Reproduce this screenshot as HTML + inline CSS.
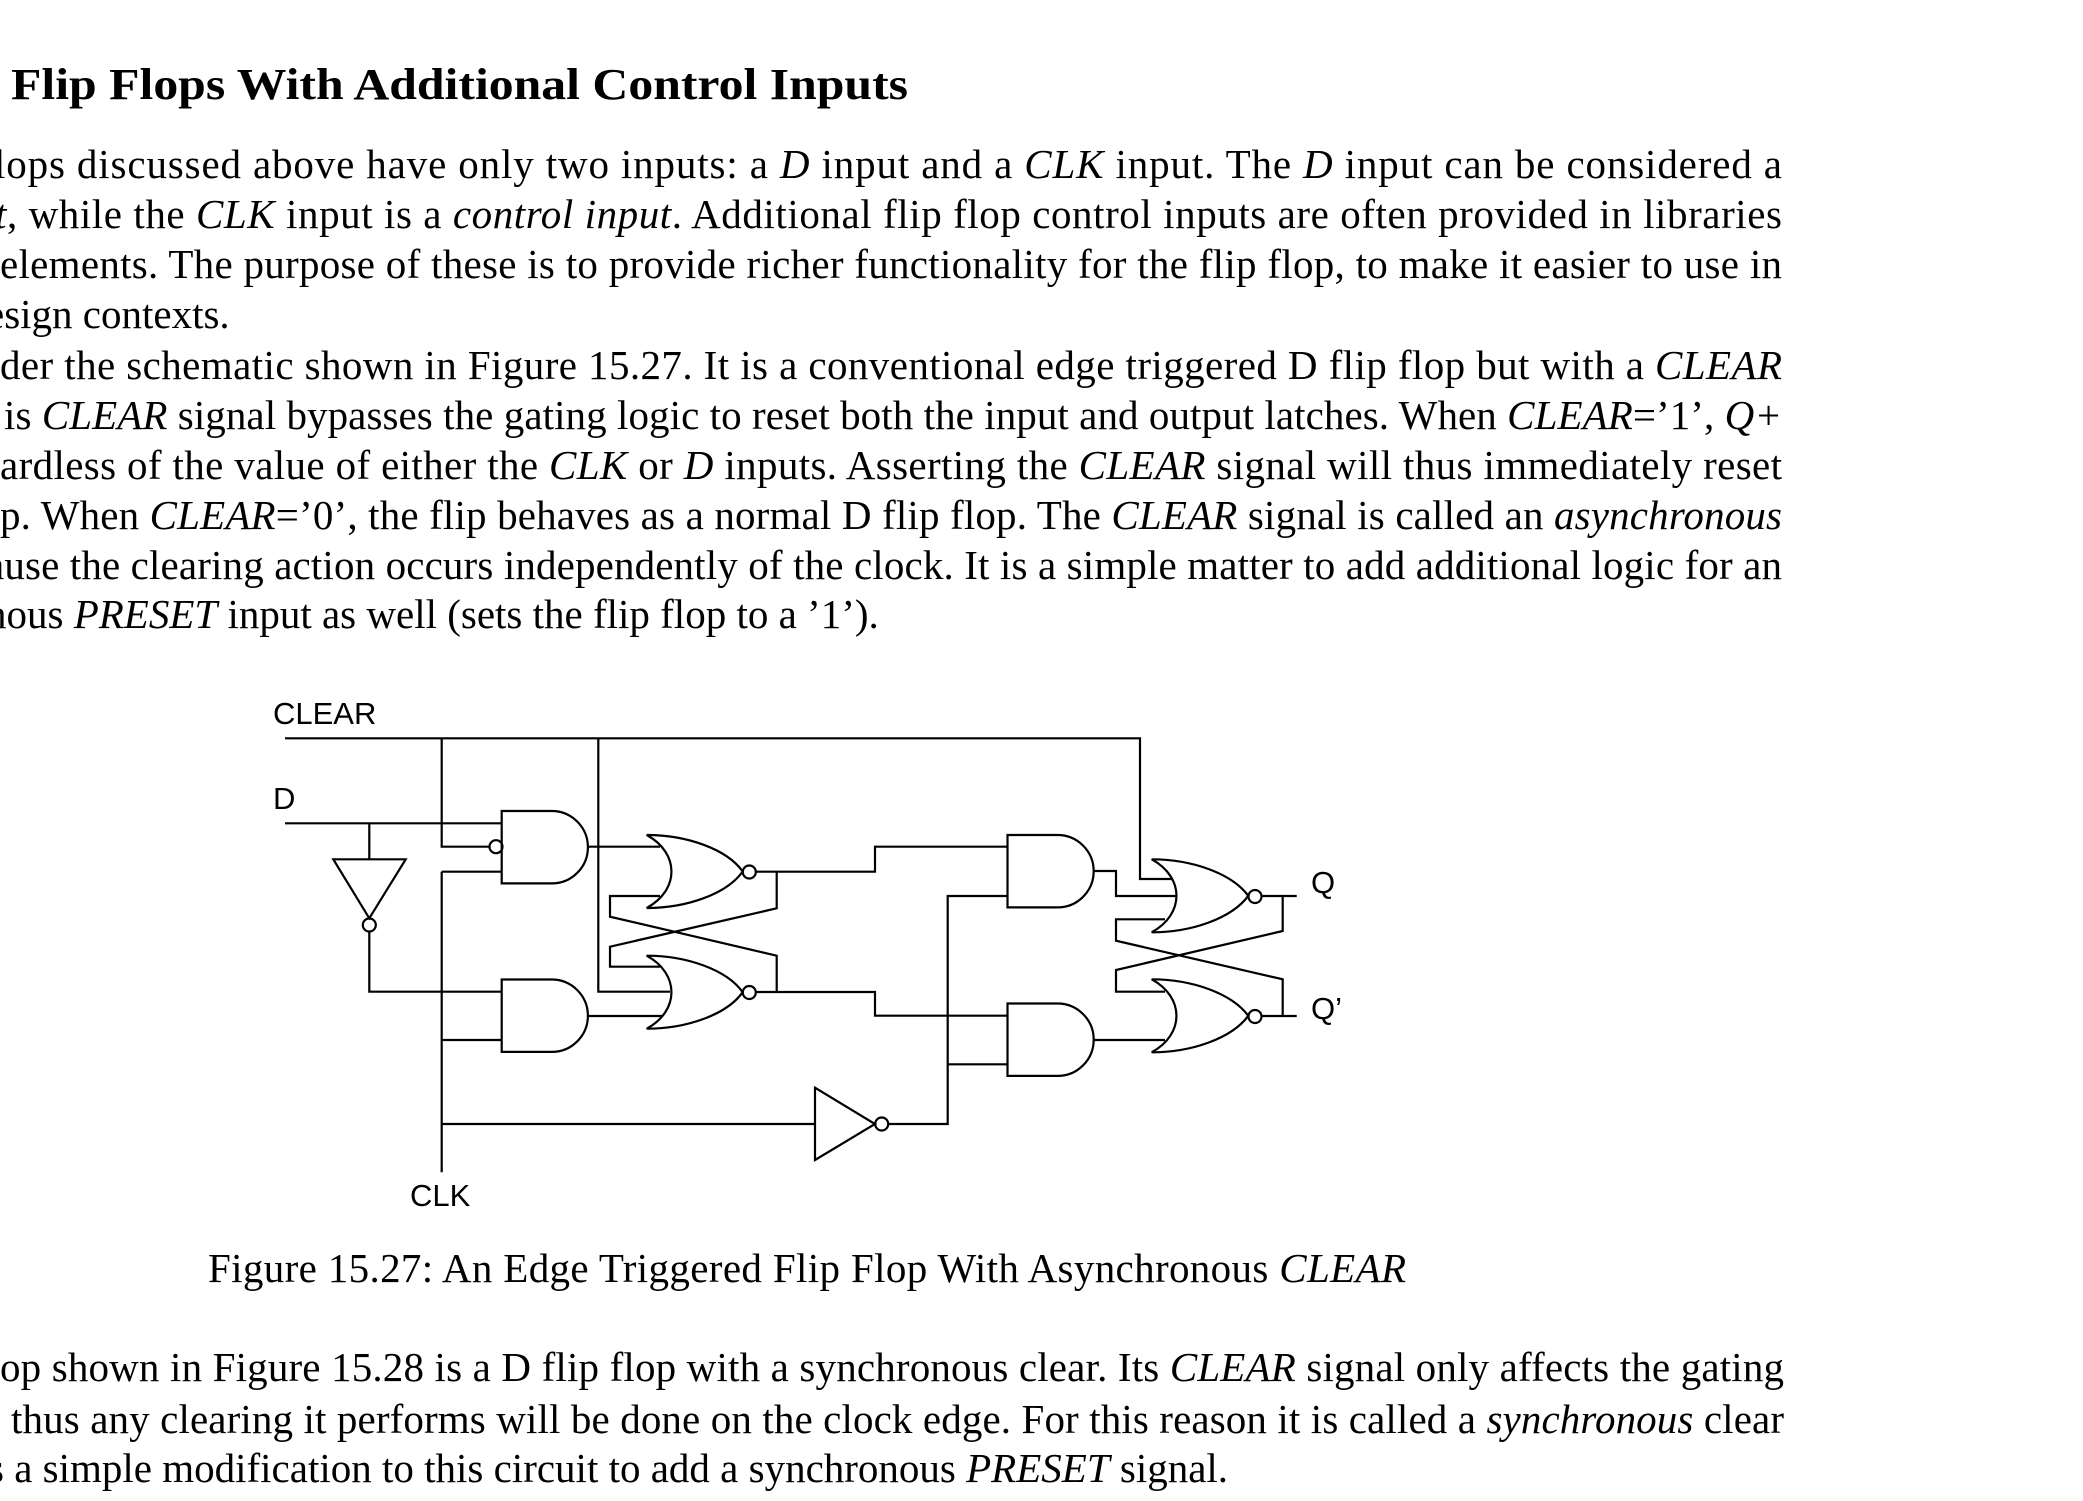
<!DOCTYPE html>
<html><head><meta charset="utf-8"><style>
html,body{margin:0;padding:0;background:#fff;overflow:hidden}
svg{display:block}
.t{font-family:"Liberation Serif",serif;font-size:41px;fill:#000}
.s{font-family:"Liberation Sans",sans-serif;font-size:31px;fill:#000}
.w{fill:none;stroke:#000;stroke-width:2.2;stroke-linejoin:miter}
</style></head><body>
<svg width="2083" height="1501" viewBox="0 0 2083 1501" xmlns="http://www.w3.org/2000/svg">
<text class="t" x="11" y="99" style="font-size:44px;font-weight:bold" textLength="897" lengthAdjust="spacingAndGlyphs">Flip Flops With Additional Control Inputs</text>

<text class="t" x="-6" y="178" textLength="1788" lengthAdjust="spacing">lops discussed above have only two inputs: a <tspan font-style="italic">D</tspan> input and a <tspan font-style="italic">CLK</tspan> input. The <tspan font-style="italic">D</tspan> input can be considered a</text>
<text class="t" x="-5" y="228" textLength="1787" lengthAdjust="spacing"><tspan font-style="italic">t</tspan>, while the <tspan font-style="italic">CLK</tspan> input is a <tspan font-style="italic">control input</tspan>. Additional flip flop control inputs are often provided in libraries</text>
<text class="t" x="0" y="278" textLength="1782" lengthAdjust="spacing">elements. The purpose of these is to provide richer functionality for the flip flop, to make it easier to use in</text>
<text class="t" x="-14" y="328">esign contexts.</text>
<text class="t" x="0" y="379" textLength="1782" lengthAdjust="spacing">der the schematic shown in Figure 15.27. It is a conventional edge triggered D flip flop but with a <tspan font-style="italic">CLEAR</tspan></text>
<text class="t" x="4" y="429" textLength="1778" lengthAdjust="spacing">is <tspan font-style="italic">CLEAR</tspan> signal bypasses the gating logic to reset both the input and output latches. When <tspan font-style="italic">CLEAR</tspan>=’1’, <tspan font-style="italic">Q+</tspan></text>
<text class="t" x="0" y="479" textLength="1782" lengthAdjust="spacing">ardless of the value of either the <tspan font-style="italic">CLK</tspan> or <tspan font-style="italic">D</tspan> inputs. Asserting the <tspan font-style="italic">CLEAR</tspan> signal will thus immediately reset</text>
<text class="t" x="0" y="529" textLength="1782" lengthAdjust="spacing">p. When <tspan font-style="italic">CLEAR</tspan>=’0’, the flip behaves as a normal D flip flop. The <tspan font-style="italic">CLEAR</tspan> signal is called an <tspan font-style="italic">asynchronous</tspan></text>
<text class="t" x="-14" y="579" textLength="1796" lengthAdjust="spacing">ause the clearing action occurs independently of the clock. It is a simple matter to add additional logic for an</text>
<text class="t" x="-14" y="628">nous <tspan font-style="italic">PRESET</tspan> input as well (sets the flip flop to a ’1’).</text>

<text class="t" x="208" y="1282" textLength="1198" lengthAdjust="spacing">Figure 15.27: An Edge Triggered Flip Flop With Asynchronous <tspan font-style="italic">CLEAR</tspan></text>
<text class="t" x="0" y="1381" textLength="1784" lengthAdjust="spacing">op shown in Figure 15.28 is a D flip flop with a synchronous clear. Its <tspan font-style="italic">CLEAR</tspan> signal only affects the gating</text>
<text class="t" x="11" y="1433" textLength="1773" lengthAdjust="spacing">thus any clearing it performs will be done on the clock edge. For this reason it is called a <tspan font-style="italic">synchronous</tspan> clear</text>
<text class="t" x="-12" y="1482">s a simple modification to this circuit to add a synchronous <tspan font-style="italic">PRESET</tspan> signal.</text>

<!-- labels -->
<text class="s" x="273" y="724">CLEAR</text>
<text class="s" x="273" y="809">D</text>
<text class="s" x="410" y="1206">CLK</text>
<text class="s" x="1311" y="893">Q</text>
<text class="s" x="1311" y="1019">Q’</text>

<!-- AND gates -->
<path class="w" d="M501.7,811 H551.7 A36.2,36.2 0 0 1 551.7,883.4 H501.7 Z"/>
<path class="w" d="M501.7,979.5 H551.7 A36.2,36.2 0 0 1 551.7,1051.9 H501.7 Z"/>
<path class="w" d="M1007.5,835 H1057.5 A36.2,36.2 0 0 1 1057.5,907.4 H1007.5 Z"/>
<path class="w" d="M1007.5,1003.5 H1057.5 A36.2,36.2 0 0 1 1057.5,1075.9 H1007.5 Z"/>

<!-- NOR gates -->
<g class="w">
<path d="M646.7,835 C679.7,853 679.7,890 646.7,908 C686.7,908 726.7,894 742.7,871.5 C726.7,849 686.7,835 646.7,835 Z"/>
<circle cx="749.3" cy="872" r="6.5"/>
<path d="M646.7,955.7 C679.7,973.7 679.7,1010.7 646.7,1028.7 C686.7,1028.7 726.7,1014.7 742.7,992.2 C726.7,969.7 686.7,955.7 646.7,955.7 Z"/>
<circle cx="749.3" cy="992.5" r="6.5"/>
<path d="M1151.7,859.3 C1184.7,877.3 1184.7,914.3 1151.7,932.3 C1191.7,932.3 1231.7,918.3 1248.3,895.8 C1231.7,873.3 1191.7,859.3 1151.7,859.3 Z"/>
<circle cx="1255" cy="896.5" r="6.5"/>
<path d="M1151.7,979.3 C1184.7,997.3 1184.7,1034.3 1151.7,1052.3 C1191.7,1052.3 1231.7,1038.3 1248.3,1015.8 C1231.7,993.3 1191.7,979.3 1151.7,979.3 Z"/>
<circle cx="1255" cy="1016.5" r="6.5"/>
</g>

<!-- inverters -->
<path class="w" d="M333.3,859.3 H405.7 L369.3,918.3 Z"/>
<circle class="w" cx="369.3" cy="925" r="6.5"/>
<path class="w" d="M815,1087.7 V1160 L875,1124 Z"/>
<circle class="w" cx="881.7" cy="1124" r="6.5"/>
<circle class="w" cx="496" cy="846.7" r="6.5"/>

<!-- wires -->
<path class="w" d="M285,738.3 H1140 V879 H1172"/>
<path class="w" d="M441.7,738.3 V846.7 H489.5"/>
<path class="w" d="M598.3,738.3 V991.7 H670"/>
<path class="w" d="M285,823.3 H501.7 M369.3,823.3 V859.3 M369.3,931.5 V991.7 H501.7"/>
<path class="w" d="M441.7,871.7 H501.7 M441.7,871.7 V1172.3 M441.7,1040 H501.7 M441.7,1124 H815"/>
<path class="w" d="M888.2,1124 H947.7 V896 H1007.5 M947.7,1064.3 H1007.5"/>
<path class="w" d="M587.8,846.7 H660 M587.8,1016 H662"/>
<path class="w" d="M660,896 H610 V916.7 L776.7,955.7 V991.7"/>
<path class="w" d="M776.7,871.7 V908.3 L610,946.7 V966.7 H660"/>
<path class="w" d="M755.8,871.7 H875 V846.7 H1007.5"/>
<path class="w" d="M755.8,992 H875 V1015.7 H1007.5"/>
<path class="w" d="M1093.7,871 H1116 V896 H1176"/>
<path class="w" d="M1093.7,1040 H1165"/>
<path class="w" d="M1261.5,896 H1296.7 M1261.5,1016 H1296.7"/>
<path class="w" d="M1282.7,896 V931 L1116,970 V991.7 H1165"/>
<path class="w" d="M1165,919.3 H1116 V940.7 L1282.7,979.3 V1016"/>
</svg>
</body></html>
